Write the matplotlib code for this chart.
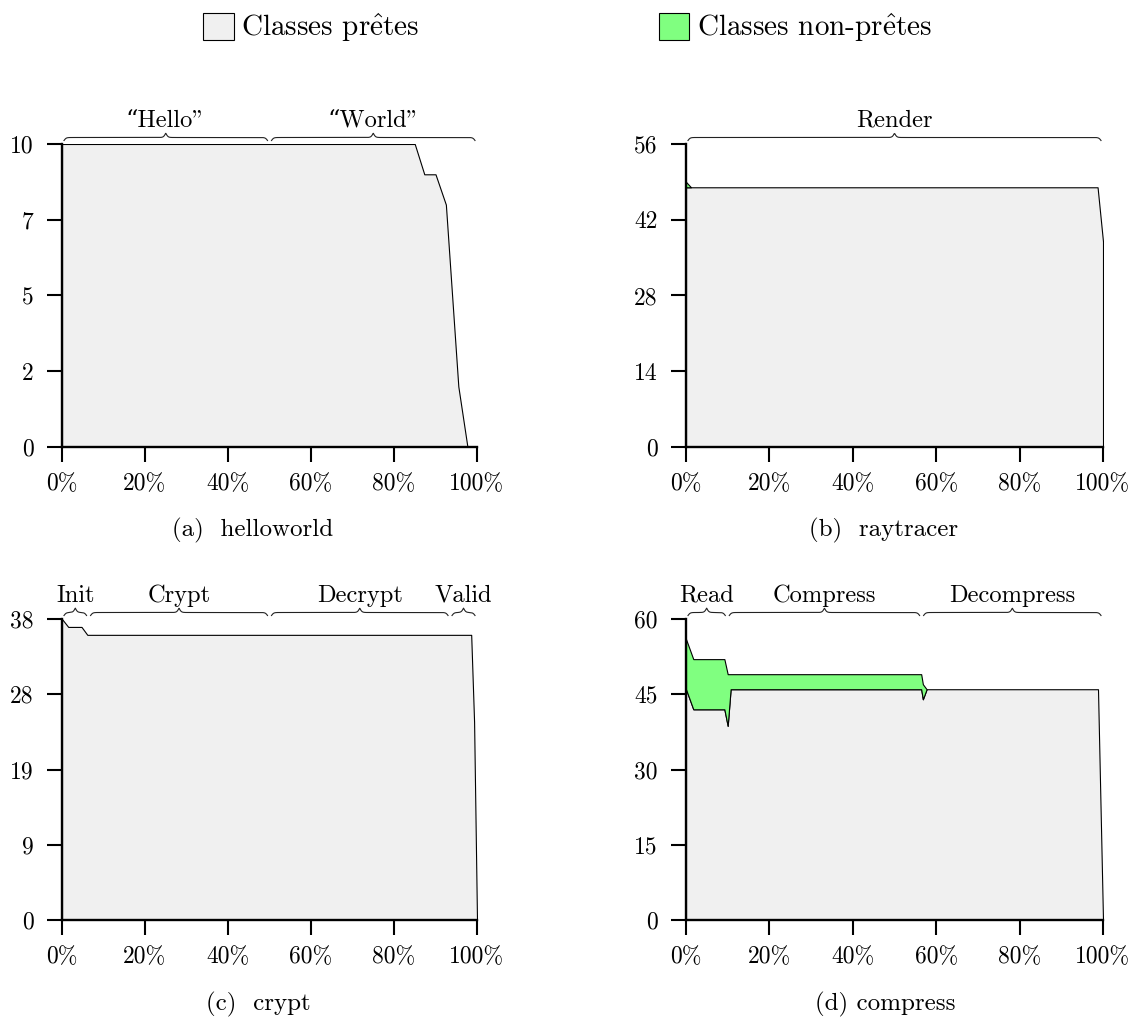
import numpy as np
import matplotlib
matplotlib.use("Agg")
import matplotlib.pyplot as plt
from matplotlib.patches import Patch

plt.rcParams['font.family'] = ['cmr10', 'DejaVu Serif']
plt.rcParams['mathtext.fontset'] = 'cm'
plt.rcParams['axes.unicode_minus'] = False

# --- data (x in % of execution, y = number of classes) ---
x_a = [0, 85, 87.3, 90, 92.5, 95.5, 97.7]
ready_a = [10, 10, 9, 9, 8, 2, 0]
notready_a = [0, 0, 0, 0, 0, 0, 0]
ymax_a = 10
ylabels_a = ['0', '2', '5', '7', '10']
phases_a = ['\u201cHello"', '\u201cWorld"']
bounds_a = [0, 50, 100]

x_b = [0, 1.2, 98.7, 100]
ready_b = [48, 48, 48, 38]
notready_b = [1, 0, 0, 0]
ymax_b = 56
ylabels_b = ['0', '14', '28', '42', '56']
phases_b = ['Render']
bounds_b = [0, 100]

x_c = [0, 1.5, 4.7, 6.1, 98.6, 99.3, 100]
ready_c = [38, 37, 37, 36, 36, 25, 0]
notready_c = [0, 0, 0, 0, 0, 0, 0]
ymax_c = 38
ylabels_c = ['0', '9', '19', '28', '38']
phases_c = ['Init', 'Crypt', 'Decrypt', 'Valid']
bounds_c = [0, 6.4, 50, 93.5, 100]

x_d = [0, 1.75, 9.2, 10.0, 10.7, 56.4, 56.8, 57.7, 98.8, 100]
ready_d = [46, 42, 42, 38.7, 46, 46, 44, 46, 46, 0]
notready_d = [10, 10, 10, 10.3, 3, 3, 3, 0, 0, 0]
ymax_d = 60
ylabels_d = ['0', '15', '30', '45', '60']
phases_d = ['Read', 'Compress', 'Decompress']
bounds_d = [0, 9.9, 56.5, 100]

xtick_vals = [0, 20, 40, 60, 80, 100]
xtick_labels = ['0%', '20%', '40%', '60%', '80%', '100%']

GRAY = '#f0f0f0'
GREEN = '#80ff80'


def brace(ax, x0, x1, label, a=3.0, tip=4.4, r=2.2, base=3.5, inset=2.0):
    fig = ax.figure
    bb = ax.get_position()
    W = bb.width * fig.bbox.width
    H = bb.height * fig.bbox.height
    u0 = x0 / 100 * W + inset
    u1 = x1 / 100 * W - inset
    L = u1 - u0
    hw = L / 2
    u = np.linspace(0, L, 800)
    ends = a * (np.tanh(u / r) + np.tanh((L - u) / r) - 1)
    peak = tip * (1 - np.tanh(np.abs(u - hw) / r))
    y = base + ends + peak
    ax.plot((u0 + u) / W, 1 + y / H, transform=ax.transAxes, clip_on=False,
            color='#222222', lw=0.8)
    ax.text((u0 + hw) / W, 1 + (base + a + tip + 6.5) / H, label,
            transform=ax.transAxes, ha='center', va='baseline', fontsize=17.6)


def panel(rect, x, ready, notready, ymax, ylabels, phases, bounds):
    ax = fig.add_axes(rect)
    ready = np.array(ready, dtype=float)
    total = ready + np.array(notready, dtype=float)
    ax.fill_between(x, 0, ready, facecolor=GRAY, edgecolor='black', lw=0.8)
    ax.fill_between(x, ready, total, where=total > ready, facecolor=GREEN,
                    edgecolor='black', lw=0.8, interpolate=True)
    ax.set_xlim(0, 100)
    ax.set_ylim(0, ymax)
    ax.set_xticks(xtick_vals)
    ax.set_xticklabels(xtick_labels)
    ax.set_yticks(np.linspace(0, ymax, 5))
    ax.set_yticklabels(ylabels)
    for s in ['top', 'right']:
        ax.spines[s].set_visible(False)
    for s in ['left', 'bottom']:
        ax.spines[s].set_linewidth(1.7)
        ax.spines[s].set_zorder(5)
    ax.tick_params(axis='both', direction='out', length=10.5, width=1.5,
                   labelsize=17)
    ax.tick_params(axis='y', pad=10)
    ax.tick_params(axis='x', pad=8)
    for i, lab in enumerate(phases):
        brace(ax, bounds[i], bounds[i + 1], lab)
    return ax


fig = plt.figure(figsize=(11.35, 10.19), dpi=100)

panel([62 / 1135, 1 - 447 / 1019, 415 / 1135, 303 / 1019],
      x_a, ready_a, notready_a, ymax_a, ylabels_a, phases_a, bounds_a)
panel([686 / 1135, 1 - 447 / 1019, 417 / 1135, 303 / 1019],
      x_b, ready_b, notready_b, ymax_b, ylabels_b, phases_b, bounds_b)
panel([62 / 1135, 1 - 920 / 1019, 415 / 1135, 301 / 1019],
      x_c, ready_c, notready_c, ymax_c, ylabels_c, phases_c, bounds_c)
panel([686 / 1135, 1 - 920 / 1019, 417 / 1135, 301 / 1019],
      x_d, ready_d, notready_d, ymax_d, ylabels_d, phases_d, bounds_d)

fig.text(253 / 1135, 1 - 530 / 1019, '(a)  helloworld', ha='center', va='center', fontsize=18)
fig.text(884 / 1135, 1 - 530 / 1019, '(b)  raytracer', ha='center', va='center', fontsize=18)
fig.text(258 / 1135, 1 - 1004 / 1019, '(c)  crypt', ha='center', va='center', fontsize=18)
fig.text(885 / 1135, 1 - 1004 / 1019, '(d) compress', ha='center', va='center', fontsize=18)

handles = [Patch(facecolor=GRAY, edgecolor='black', lw=0.8),
           Patch(facecolor=GREEN, edgecolor='black', lw=0.8)]
labels = [r'Classes pr$\hat{\mathrm{e}}$tes', r'Classes non-pr$\hat{\mathrm{e}}$tes']
fig.legend(handles, labels, loc='center', bbox_to_anchor=(0.5, 1 - 28 / 1019),
           ncol=2, frameon=False, fontsize=21, handlelength=1.05, handleheight=1.05,
           handletextpad=0.25, columnspacing=8.2)

fig.savefig('out.png', dpi=100)
